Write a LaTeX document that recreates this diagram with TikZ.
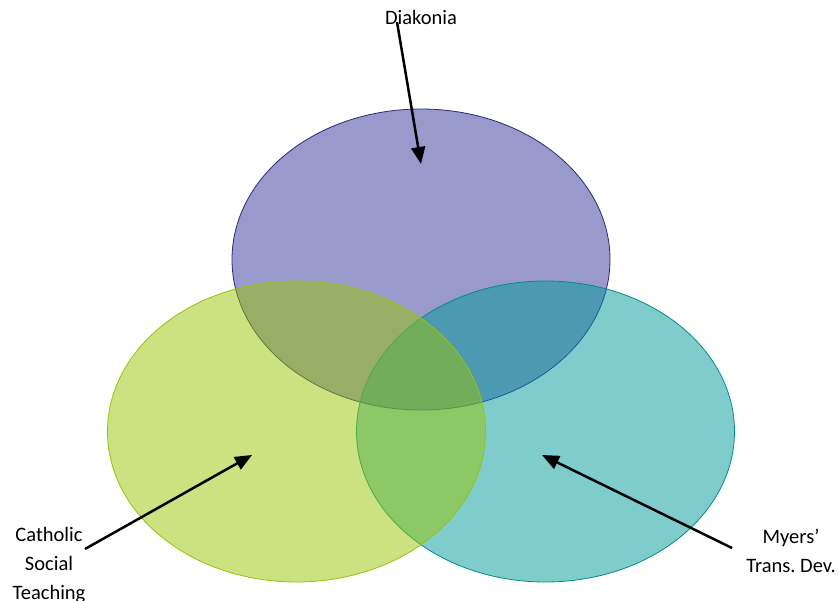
\documentclass[tikz,border=0pt]{standalone}
\usepackage{fontspec}
\setmainfont{Carlito}
\usetikzlibrary{shapes.geometric,arrows.meta}
\definecolor{diakoniafill}{RGB}{51,51,153}
\definecolor{diakoniaedge}{RGB}{40,40,130}
\definecolor{catholicfill}{RGB}{153,197,1}
\definecolor{catholicedge}{RGB}{150,195,10}
\definecolor{myersfill}{RGB}{0,153,153}
\definecolor{myersedge}{RGB}{0,140,140}
\tikzset{
  bigset/.style={ellipse, minimum width=378pt, minimum height=301pt, inner sep=0pt, fill opacity=0.5, line width=0.8pt},
  setlabel/.style={align=center, inner sep=0pt, font=\fontsize{20.5}{29}\selectfont},
  pointer/.style={-{Triangle[length=17pt,width=14pt]}, line width=2.5pt}
}
\begin{document}
\begin{tikzpicture}[x=1pt,y=-1pt]
                \useasboundingbox (0,0) rectangle (840,601);
                \clip (0,0) rectangle (840,601);

                % Draw the three sets
                \node[bigset, draw=diakoniaedge, fill=diakoniafill] (diakonia) at (421,259.5) {};
                \node[bigset, draw=myersedge, fill=myersfill] (myers) at (545.5,431.5) {};
                \node[bigset, draw=catholicedge, fill=catholicfill] (catholic) at (296.5,431.5) {};

                % Draw the labels
                \node[setlabel] (diakonialabel) at (421,17) {Diakonia};
                \node[setlabel] (catholiclabel) at (49,565) {Catholic\\Social\\Teaching};
                \node[setlabel] (myerslabel) at (791,551) {Myers’\\Trans.\ Dev.};

                % Arrow end points
                \coordinate (diakoniastart) at (397,22);
                \coordinate (diakoniatip) at (421,164);
                \coordinate (catholicstart) at (85,549);
                \coordinate (catholictip) at (252,455);
                \coordinate (myersstart) at (732,548);
                \coordinate (myerstip) at (542,455);

                % Draw the arrows
                \draw[pointer] (diakoniastart) -- (diakoniatip);
                \draw[pointer] (catholicstart) -- (catholictip);
                \draw[pointer] (myersstart) -- (myerstip);
\end{tikzpicture}
\end{document}
